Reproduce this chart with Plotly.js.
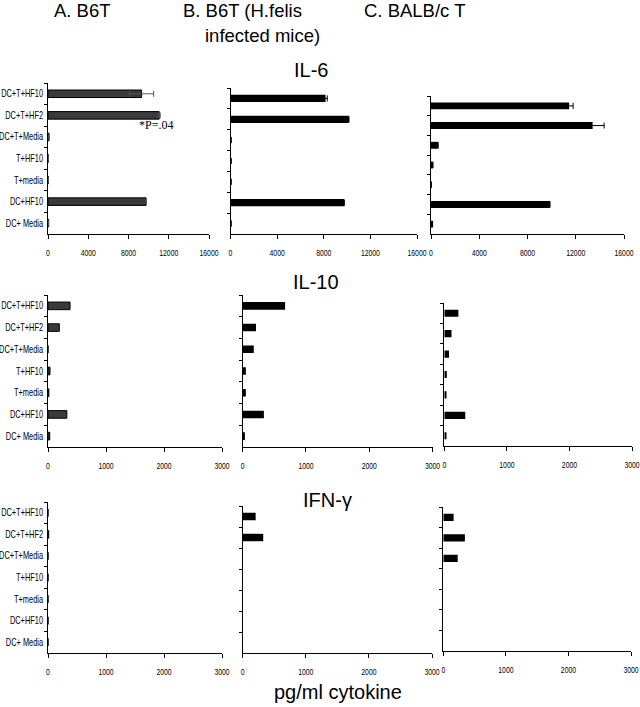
<!DOCTYPE html>
<html>
<head>
<meta charset="utf-8">
<script src="https://cdn.plot.ly/plotly-3.0.1.min.js"></script>
<style>html,body{margin:0;padding:0;background:#fff;}#chart{width:640px;height:707px;}</style>
</head>
<body>
<div id="chart"></div>
<script>
// ---- data ----
const categories = ['DC+T+HF10','DC+T+HF2','DC+T+Media','T+HF10','T+media','DC+HF10','DC+ Media'];

const il6_A = [9300, 11050, 100, 50, 30, 9750, 60];
const il6_A_err = [1200, 100, 0, 0, 0, 0, 0];
const il6_B = [8150, 10150, 50, 50, 50, 9750, 50];
const il6_B_err = [150, 0, 0, 0, 0, 0, 0];
const il6_C = [11450, 13400, 580, 150, 20, 9850, 130];
const il6_C_err = [330, 950, 0, 0, 0, 0, 0];

const il10_A = [380, 195, 0, 35, 15, 325, 30];
const il10_B = [670, 210, 175, 50, 50, 335, 35];
const il10_C = [225, 115, 75, 40, 35, 335, 35];

const ifn_A = [0, 12, 0, 0, 0, 0, 0];
const ifn_B = [205, 325, 0, 0, 0, 0, 0];
const ifn_C = [165, 345, 230, 0, 0, 0, 0];

const columnTitles = ['A. B6T', 'B. B6T (H.felis', 'infected mice)', 'C. BALB/c T'];
const cytokineTitles = ['IL-6', 'IL-10', 'IFN-γ'];
const xTitle = 'pg/ml cytokine';
const pNote = '*P=.04';

// ---- panel geometry (pixels) ----
const W = 640, H = 707;
const panels = [
  {vals: il6_A, err: il6_A_err, x: [48, 209], y: [83, 234], max: 16000, dt: 4000, col: 0},
  {vals: il6_B, err: il6_B_err, x: [230.5, 417], y: [88, 234], max: 16000, dt: 4000, col: 1},
  {vals: il6_C, err: il6_C_err, x: [431, 624], y: [96, 234], max: 16000, dt: 4000, col: 2},
  {vals: il10_A, x: [48, 222], y: [295, 447], max: 3000, dt: 1000, col: 0},
  {vals: il10_B, x: [242.7, 432.5], y: [295, 447], max: 3000, dt: 1000, col: 1},
  {vals: il10_C, x: [444.3, 632], y: [303, 446], max: 3000, dt: 1000, col: 2},
  {vals: ifn_A, x: [48, 222], y: [502, 653], max: 3000, dt: 1000, col: 0},
  {vals: ifn_B, x: [242.7, 432], y: [506, 653], max: 3000, dt: 1000, col: 1},
  {vals: ifn_C, x: [443.3, 631], y: [507, 651], max: 3000, dt: 1000, col: 2}
];

const tickFam = '"Liberation Sans", Arial, sans-serif';
const colFont = {family: '"Liberation Sans", Arial, sans-serif', size: 18.5, color: '#000'};
const cytoFont = {family: '"Liberation Sans", Arial, sans-serif', size: 20, color: '#000'};
const axFont = {family: '"Liberation Sans", Arial, sans-serif', size: 20, color: '#000'};

const data = [];
const layout = {
  width: W, height: H,
  margin: {l: 0, r: 0, t: 0, b: 0},
  paper_bgcolor: '#fff', plot_bgcolor: 'rgba(0,0,0,0)',
  showlegend: false,
  bargap: 0.65,
  annotations: []
};

panels.forEach((p, i) => {
  const n = i === 0 ? '' : String(i + 1);
  const trace = {
    type: 'bar', orientation: 'h',
    x: p.vals, y: categories,
    xaxis: 'x' + n, yaxis: 'y' + n,
    marker: p.col === 0 ? {color: '#3a3a3a', line: {color: '#000', width: 1}} : {color: '#000', line: {color: '#000', width: 0}},
    hoverinfo: 'x+y'
  };
  if (p.err) {
    trace.error_x = {type: 'data', array: p.err, visible: true, color: p.col === 0 ? '#555' : '#000', thickness: 1, width: 3};
  }
  data.push(trace);
  layout['xaxis' + n] = {
    domain: [p.x[0] / W, p.x[1] / W],
    anchor: 'y' + n,
    range: [0, p.max], dtick: p.dt, tick0: 0,
    tickformat: 'd', exponentformat: 'none', separatethousands: false,
    showgrid: false, zeroline: false,
    showline: true, linecolor: '#000', linewidth: 1,
    ticks: 'outside', ticklen: 4, tickcolor: '#000', tickwidth: 1,
    tickfont: {family: tickFam, size: 9.5, color: '#000'}, ticklabelstandoff: 6,
    ticklabeloverflow: 'allow',
    fixedrange: true
  };
  layout['yaxis' + n] = {
    domain: [1 - p.y[1] / H, 1 - p.y[0] / H],
    anchor: 'x' + n,
    type: 'category', categoryorder: 'array', categoryarray: categories,
    autorange: 'reversed',
    showgrid: false, zeroline: false,
    showline: true, linecolor: '#000', linewidth: 1,
    ticks: 'outside', ticklen: 3, tickcolor: '#000', tickwidth: 1,
    tickson: 'boundaries',
    showticklabels: p.col === 0,
    tickfont: {family: tickFam, size: 10, color: '#000'},
    ticklabelstandoff: 2,
    ticklabeloverflow: 'allow',
    fixedrange: true
  };
});

function ann(text, x, y, font, xanchor) {
  layout.annotations.push({
    text: text, xref: 'paper', yref: 'paper',
    x: x / W, y: 1 - y / H, xanchor: xanchor || 'center', yanchor: 'middle',
    showarrow: false, font: font
  });
}
ann(columnTitles[0], 82, 11, colFont);
ann(columnTitles[1], 181, 11, colFont, 'left');
ann(columnTitles[2], 203, 36, colFont, 'left');
ann(columnTitles[3], 414, 11, colFont);
ann(cytokineTitles[0], 311, 70, cytoFont);
ann(cytokineTitles[1], 316, 282, cytoFont);
ann(cytokineTitles[2], 327, 500, cytoFont);
ann(xTitle, 338, 692, axFont);
ann(pNote, 156, 125, {family: '"Liberation Serif", "Times New Roman", serif', size: 12, color: '#000'});

// Condense tick labels horizontally (the original uses a narrow typeface)
function condense(sel, s) {
  document.querySelectorAll(sel).forEach(t => {
    const x = parseFloat(t.getAttribute('x') || '0');
    const tr = t.getAttribute('transform') || '';
    t.setAttribute('transform', tr + ' translate(' + x + ',0) scale(' + s + ',1) translate(' + (-x) + ',0)');
  });
}

Plotly.newPlot('chart', data, layout, {staticPlot: true, displayModeBar: false}).then(() => {
  condense('g.yaxislayer-above text', 0.74);
  condense('g.xaxislayer-above text', 0.72);
});
</script>
</body>
</html>
